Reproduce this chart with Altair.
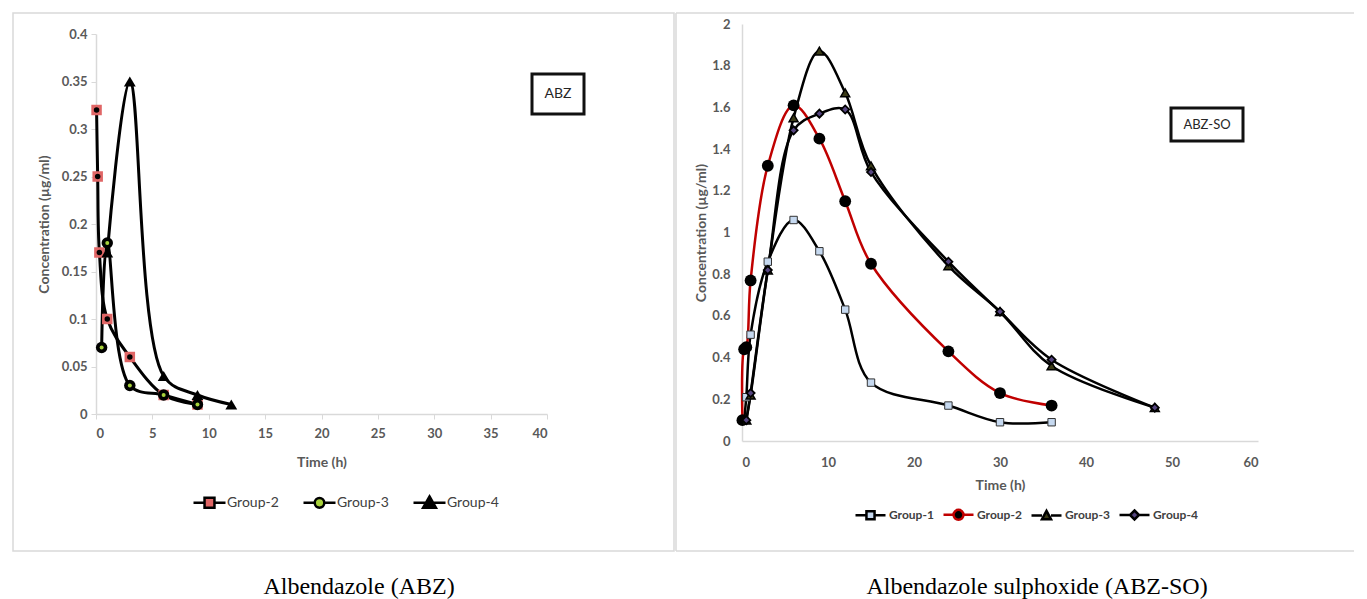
import altair as alt
import pandas as pd

# ---------------- data ----------------
abz_groups = ["Group-2", "Group-3", "Group-4"]
abz_g2_t = [0.05, 0.15, 0.3, 1, 3, 6, 9]
abz_g2_c = [0.32, 0.25, 0.17, 0.10, 0.06, 0.02, 0.01]
abz_g3_t = [0.5, 1, 3, 6, 9]
abz_g3_c = [0.07, 0.18, 0.03, 0.02, 0.01]
abz_g4_t = [1, 3, 6, 9, 12]
abz_g4_c = [0.17, 0.35, 0.04, 0.02, 0.01]
abz_x_ticks = [0, 5, 10, 15, 20, 25, 30, 35, 40]
abz_y_ticks = [0, 0.05, 0.1, 0.15, 0.2, 0.25, 0.3, 0.35, 0.4]

so_groups = ["Group-1", "Group-2", "Group-3", "Group-4"]
so_g1_t = [0.25, 0.5, 1, 3, 6, 9, 12, 15, 24, 30, 36]
so_g1_c = [0.10, 0.21, 0.51, 0.86, 1.06, 0.91, 0.63, 0.28, 0.17, 0.09, 0.09]
so_g2_t = [0.05, 0.25, 0.5, 1, 3, 6, 9, 12, 15, 24, 30, 36]
so_g2_c = [0.10, 0.44, 0.45, 0.77, 1.32, 1.61, 1.45, 1.15, 0.85, 0.43, 0.23, 0.17]
so_g3_t = [0.5, 1, 3, 6, 9, 12, 15, 24, 30, 36, 48]
so_g3_c = [0.10, 0.22, 0.82, 1.55, 1.87, 1.67, 1.32, 0.84, 0.62, 0.36, 0.16]
so_g4_t = [0.5, 1, 3, 6, 9, 12, 15, 24, 30, 36, 48]
so_g4_c = [0.10, 0.23, 0.82, 1.49, 1.57, 1.59, 1.29, 0.86, 0.62, 0.39, 0.16]
so_x_ticks = [0, 10, 20, 30, 40, 50, 60]
so_y_ticks = [0, 0.2, 0.4, 0.6, 0.8, 1, 1.2, 1.4, 1.6, 1.8, 2]

abz_caption = ["Albendazole (ABZ)"]
so_caption = ["Albendazole sulphoxide (ABZ-SO)"]
abz_tag = ["ABZ"]
so_tag = ["ABZ-SO"]


def long_df(groups, ts, cs):
    rows = []
    for g, t_list, c_list in zip(groups, ts, cs):
        for t, c in zip(t_list, c_list):
            rows.append({"group": g, "t": t, "c": c})
    return pd.DataFrame(rows)


df1 = long_df(abz_groups, [abz_g2_t, abz_g3_t, abz_g4_t], [abz_g2_c, abz_g3_c, abz_g4_c])
df2 = long_df(so_groups, [so_g1_t, so_g2_t, so_g3_t, so_g4_t],
              [so_g1_c, so_g2_c, so_g3_c, so_g4_c])
one = pd.DataFrame({"k": [0]})

GRAY = "#595959"
AXC = "#d9d9d9"
FONT = "Lato"

# ---------------- left panel (ABZ) ----------------
W1, H1 = 451, 380
x1 = alt.X("t:Q", scale=alt.Scale(domain=[0, 40], nice=False),
           axis=alt.Axis(values=abz_x_ticks, title="Time (h)", grid=False,
                         domainColor=AXC, domainWidth=1.5, tickColor=AXC, tickSize=5,
                         labelColor=GRAY, labelFont=FONT, labelFontSize=13,
                         labelFontWeight="bold", labelPadding=8,
                         titleColor=GRAY, titleFont=FONT, titleFontSize=14,
                         titleFontWeight="bold", titlePadding=15))
y1 = alt.Y("c:Q", scale=alt.Scale(domain=[0, 0.4], nice=False),
           axis=alt.Axis(values=abz_y_ticks, format="~g", title="Concentration (µg/ml)",
                         grid=False, domainColor=AXC, domainWidth=1.5, tickColor=AXC,
                         tickSize=5, labelColor=GRAY, labelFont=FONT, labelFontSize=13,
                         labelFontWeight="bold", labelPadding=4,
                         titleColor=GRAY, titleFont=FONT, titleFontSize=14,
                         titleFontWeight="bold", titlePadding=10))

base1 = alt.Chart(df1)
box1 = alt.Chart(one).mark_rect(fill="white", fillOpacity=0, stroke=AXC, strokeWidth=1.5).encode(
    x=alt.value(-83), x2=alt.value(578), y=alt.value(-21), y2=alt.value(517))

lines1 = [base1.transform_filter(alt.datum.group == g)
          .mark_line(interpolate="catmull-rom", color="black", strokeWidth=3)
          .encode(x=x1, y=y1) for g in abz_groups]

pts1 = [
    base1.transform_filter(alt.datum.group == "Group-2").mark_point(
        shape="square", filled=True, color="#e06666", size=110, opacity=1).encode(x=x1, y=y1),
    base1.transform_filter(alt.datum.group == "Group-2").mark_point(
        shape="circle", filled=True, color="black", size=30, opacity=1).encode(x=x1, y=y1),
    base1.transform_filter(alt.datum.group == "Group-3").mark_point(
        shape="circle", filled=True, color="black", size=130, opacity=1).encode(x=x1, y=y1),
    base1.transform_filter(alt.datum.group == "Group-3").mark_point(
        shape="circle", filled=True, color="#a8d13b", size=16, opacity=1).encode(x=x1, y=y1),
    base1.transform_filter(alt.datum.group == "Group-4").mark_point(
        shape="triangle-up", filled=True, color="black", size=140, opacity=1).encode(x=x1, y=y1),
]

abz_leg_paths = [
    "M-1,0H-0.31M0.31,0H1M-0.31,-0.31H0.31V0.31H-0.31Z",
    "M-1,0H-0.3M0.3,0H1M0.3,0A0.3,0.3,0,1,1,-0.3,0A0.3,0.3,0,1,1,0.3,0Z",
    "M-1,0H1M0,-0.4L0.4,0.3H-0.4Z",
]
abz_leg_fill = ["#e06666", "#a8d13b", "black"]
abz_leg_stroke = ["black", "black", "black"]
leg1 = alt.Legend(title=None, orient="none", legendX=96, legendY=451,
                  direction="horizontal", symbolSize=1024, symbolStrokeWidth=2.5,
                  labelFont=FONT, labelFontSize=14, labelColor="#404040",
                  labelOffset=0, columnPadding=19)
legend1 = base1.transform_filter("datum.t < 0").mark_point(
    filled=True, strokeWidth=2.5, opacity=1).encode(
    shape=alt.Shape("group:N", scale=alt.Scale(domain=abz_groups, range=abz_leg_paths), legend=leg1),
    fill=alt.Fill("group:N", scale=alt.Scale(domain=abz_groups, range=abz_leg_fill), legend=leg1),
    stroke=alt.Stroke("group:N", scale=alt.Scale(domain=abz_groups, range=abz_leg_stroke), legend=leg1),
)

tagbox1 = alt.Chart(one).mark_rect(fill="white", stroke="#111111", strokeWidth=3).encode(
    x=alt.value(436), x2=alt.value(488), y=alt.value(40), y2=alt.value(80))
tag1 = alt.Chart(pd.DataFrame({"s": abz_tag})).mark_text(
    font=FONT, fontSize=14, color="#262626", align="center", baseline="middle").encode(
    x=alt.value(462), y=alt.value(60), text="s:N")
cap1 = alt.Chart(pd.DataFrame({"s": abz_caption})).mark_text(
    font="Liberation Serif", fontSize=24, color="black", align="center", baseline="middle").encode(
    x=alt.value(263), y=alt.value(553), text="s:N")

left = alt.layer(box1, *lines1, *pts1, legend1, tagbox1, tag1, cap1).properties(
    width=W1, height=H1)

# ---------------- right panel (ABZ-SO) ----------------
# plot origin is shared with the left panel's (page y 33); the y range reaches 10px above it
W2, H2 = 516, 407
x2 = alt.X("t:Q", scale=alt.Scale(domain=[0, 60], nice=False),
           axis=alt.Axis(values=so_x_ticks, title="Time (h)", grid=False,
                         domainColor=AXC, domainWidth=1.5, ticks=False,
                         labelColor=GRAY, labelFont=FONT, labelFontSize=13,
                         labelFontWeight="bold", labelPadding=15,
                         titleColor=GRAY, titleFont=FONT, titleFontSize=14,
                         titleFontWeight="bold", titlePadding=9))
y2 = alt.Y("c:Q", scale=alt.Scale(domain=[0, 2], nice=False, range=[H2, -10]),
           axis=alt.Axis(values=so_y_ticks, format="~g", title="Concentration (µg/ml)",
                         grid=False, domainColor=AXC, domainWidth=1.5, ticks=False,
                         labelColor=GRAY, labelFont=FONT, labelFontSize=13,
                         labelFontWeight="bold", labelPadding=12,
                         titleColor=GRAY, titleFont=FONT, titleFontSize=14,
                         titleFontWeight="bold", titlePadding=3))

base2 = alt.Chart(df2)
frame2 = [
    alt.Chart(one).mark_rule(color=AXC, strokeWidth=1.5).encode(
        x=alt.value(-66), x2=alt.value(612), y=alt.value(-21)),
    alt.Chart(one).mark_rule(color=AXC, strokeWidth=1.5).encode(
        x=alt.value(-66), x2=alt.value(612), y=alt.value(517)),
    alt.Chart(one).mark_rule(color=AXC, strokeWidth=1.5).encode(
        x=alt.value(-66), y=alt.value(-21), y2=alt.value(517)),
]
so_line_colors = ["black", "#c00000", "black", "black"]
lines2 = [base2.transform_filter(alt.datum.group == g)
          .mark_line(interpolate="catmull-rom", color=col, strokeWidth=2.5)
          .encode(x=x2, y=y2) for g, col in zip(so_groups, so_line_colors)]

pts2 = [
    base2.transform_filter(alt.datum.group == "Group-1").mark_point(
        shape="square", filled=True, fill="#c6d9f0", stroke="#333333", strokeWidth=1,
        size=55, opacity=1).encode(x=x2, y=y2),
    base2.transform_filter(alt.datum.group == "Group-2").mark_point(
        shape="circle", filled=True, color="black", size=140, opacity=1).encode(x=x2, y=y2),
    base2.transform_filter(alt.datum.group == "Group-3").mark_point(
        shape="triangle-up", filled=True, fill="#3b3b17", stroke="black", strokeWidth=1.5,
        size=80, opacity=1).encode(x=x2, y=y2),
    base2.transform_filter(alt.datum.group == "Group-4").mark_point(
        shape="diamond", filled=True, fill="#55457f", stroke="black", strokeWidth=1.8,
        size=65, opacity=1).encode(x=x2, y=y2),
]

so_leg_paths = [
    "M-1,0H-0.27M0.27,0H1M-0.27,-0.27H0.27V0.27H-0.27Z",
    "M-1,0H-0.33M0.33,0H1M0.33,0A0.33,0.33,0,1,1,-0.33,0A0.33,0.33,0,1,1,0.33,0Z",
    "M-1,0H-0.3M0.3,0H1M0,-0.3L0.3,0.25H-0.3Z",
    "M-1,0H-0.3M0.3,0H1M0,-0.3L0.3,0L0,0.3L-0.3,0Z",
]
so_leg_fill = ["#c6d9f0", "black", "#3b3b17", "#55457f"]
so_leg_stroke = ["black", "#c00000", "black", "black"]
leg2 = alt.Legend(title=None, orient="none", legendX=112, legendY=464,
                  direction="horizontal", symbolSize=900, symbolStrokeWidth=2.5,
                  labelFont=FONT, labelFontSize=12, labelFontWeight="bold",
                  labelColor="#404040", labelOffset=2, columnPadding=4)
legend2 = base2.transform_filter("datum.t < 0").mark_point(
    filled=True, strokeWidth=2.5, opacity=1).encode(
    shape=alt.Shape("group:N", scale=alt.Scale(domain=so_groups, range=so_leg_paths), legend=leg2),
    fill=alt.Fill("group:N", scale=alt.Scale(domain=so_groups, range=so_leg_fill), legend=leg2),
    stroke=alt.Stroke("group:N", scale=alt.Scale(domain=so_groups, range=so_leg_stroke), legend=leg2),
)

tagbox2 = alt.Chart(one).mark_rect(fill="white", stroke="#111111", strokeWidth=3).encode(
    x=alt.value(429), x2=alt.value(501), y=alt.value(74), y2=alt.value(107))
tag2 = alt.Chart(pd.DataFrame({"s": so_tag})).mark_text(
    font=FONT, fontSize=13, color="#262626", align="center", baseline="middle").encode(
    x=alt.value(465), y=alt.value(90.5), text="s:N")
cap2 = alt.Chart(pd.DataFrame({"s": so_caption})).mark_text(
    font="Liberation Serif", fontSize=24, color="black", align="center", baseline="middle").encode(
    x=alt.value(295), y=alt.value(553), text="s:N")

right = alt.layer(*frame2, *lines2, *pts2, legend2, tagbox2, tag2, cap2).properties(
    width=W2, height=H2)

chart = alt.concat(left, right, columns=2, align="none", spacing=0).resolve_scale(
    x="independent", y="independent", shape="independent",
    fill="independent", stroke="independent").properties(
    padding={"left": 4, "top": 4, "right": 0, "bottom": 0},
    background="white").configure_view(strokeWidth=0)

chart.save("out.html", embed_options={"renderer": "svg", "actions": False})
